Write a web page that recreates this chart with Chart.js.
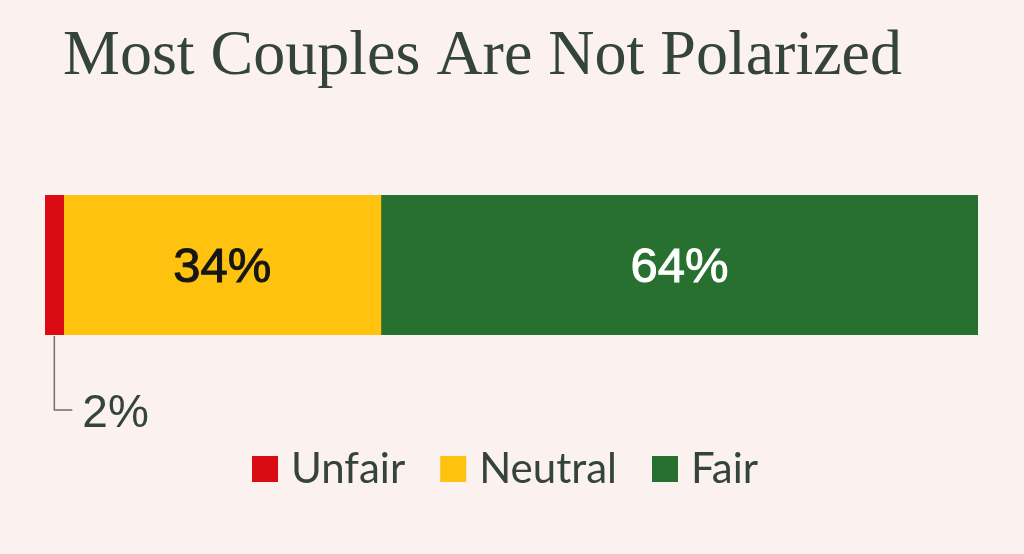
<!DOCTYPE html>
<html>
<head>
<meta charset="utf-8">
<title>Most Couples Are Not Polarized</title>
<script src="https://cdn.jsdelivr.net/npm/chart.js@4.4.1/dist/chart.umd.min.js"></script>
<style>
  html, body { margin: 0; padding: 0; background: #fbf1ee; }
  #wrap { width: 1024px; height: 554px; position: relative; }
</style>
</head>
<body>
<div id="wrap"><canvas id="couples-chart"></canvas></div>
<script>
// Chart data
const chartTitle = 'Most Couples Are Not Polarized';
const categories = ['Couples'];
const seriesNames = ['Unfair', 'Neutral', 'Fair'];
const unfairValues = [2];
const neutralValues = [34];
const fairValues = [64];
const seriesColors = ['#da0b13', '#ffc20e', '#27702f'];

const BG = '#fbf1ee';
const INK = '#34433b';

// Title, value labels, the small callout and the legend are drawn here
const decorations = {
    id: 'decorations',
    beforeDraw(chart) {
        const ctx = chart.ctx;
        ctx.save();
        ctx.fillStyle = BG;
        ctx.fillRect(0, 0, chart.width, chart.height);
        ctx.restore();
    },
    afterDatasetsDraw(chart) {
        const ctx = chart.ctx;
        ctx.save();

        // title
        ctx.fillStyle = INK;
        ctx.font = '64px "Liberation Serif", serif';
        ctx.textAlign = 'left';
        ctx.textBaseline = 'alphabetic';
        ctx.fillText(chartTitle, 63, 74);

        // value labels
        chart.data.datasets.forEach((ds, i) => {
            const bar = chart.getDatasetMeta(i).data[0];
            const value = ds.data[0] + '%';
            const left = Math.min(bar.x, bar.base);
            const right = Math.max(bar.x, bar.base);
            const cx = (left + right) / 2;
            if (right - left > 80) {
                ctx.font = '49px "Liberation Sans", sans-serif';
                ctx.textAlign = 'center';
                ctx.textBaseline = 'alphabetic';
                ctx.fillStyle = ds.labelColor;
                ctx.strokeStyle = ds.labelColor;
                ctx.lineWidth = 1;
                ctx.fillText(value, cx, bar.y + 17);
                ctx.strokeText(value, cx, bar.y + 17);
            } else {
                // too thin: leader line down below the bar
                const bottom = bar.y + bar.height / 2;
                ctx.strokeStyle = '#6f6f6f';
                ctx.lineWidth = 1.5;
                ctx.beginPath();
                ctx.moveTo(cx, bottom + 1);
                ctx.lineTo(cx, 410);
                ctx.lineTo(cx + 18, 410);
                ctx.stroke();
                ctx.font = '46px "Liberation Sans", sans-serif';
                ctx.textAlign = 'left';
                ctx.textBaseline = 'alphabetic';
                ctx.fillStyle = INK;
                ctx.fillText(value, cx + 28, 427);
            }
        });

        // legend
        const box = 26, gap = 13, spacing = 35;
        ctx.font = '42px Lato, sans-serif';
        const widths = chart.data.datasets.map(ds => ctx.measureText(ds.label).width);
        let total = 0;
        widths.forEach((w, i) => { total += box + gap + w + (i < widths.length - 1 ? spacing : 0); });
        let x = 505 - total / 2;
        chart.data.datasets.forEach((ds, i) => {
            ctx.fillStyle = ds.backgroundColor;
            ctx.fillRect(x, 456, box, box);
            x += box + gap;
            ctx.fillStyle = INK;
            ctx.textAlign = 'left';
            ctx.textBaseline = 'alphabetic';
            ctx.fillText(ds.label, x, 483);
            x += widths[i] + spacing;
        });

        ctx.restore();
    }
};

const seriesData = [unfairValues, neutralValues, fairValues];
const labelColors = ['#ffffff', '#161616', '#ffffff'];

const ctx = document.getElementById('couples-chart').getContext('2d');
const couplesChart = new Chart(ctx, {
    type: 'bar',
    data: {
        labels: categories,
        datasets: seriesNames.map((name, i) => ({
            label: name,
            data: seriesData[i],
            backgroundColor: seriesColors[i],
            labelColor: labelColors[i],
            borderWidth: 0,
            barPercentage: 1,
            categoryPercentage: 1
        }))
    },
    options: {
        indexAxis: 'y',
        responsive: true,
        maintainAspectRatio: false,
        animation: false,
        layout: {
            padding: { top: 195, bottom: 219, left: 45, right: 46 }
        },
        scales: {
            x: { stacked: true, min: 0, max: 100, display: false },
            y: { stacked: true, display: false }
        },
        plugins: {
            legend: { display: false },
            tooltip: { enabled: false },
            title: { display: false }
        }
    },
    plugins: [decorations]
});
</script>
</body>
</html>
